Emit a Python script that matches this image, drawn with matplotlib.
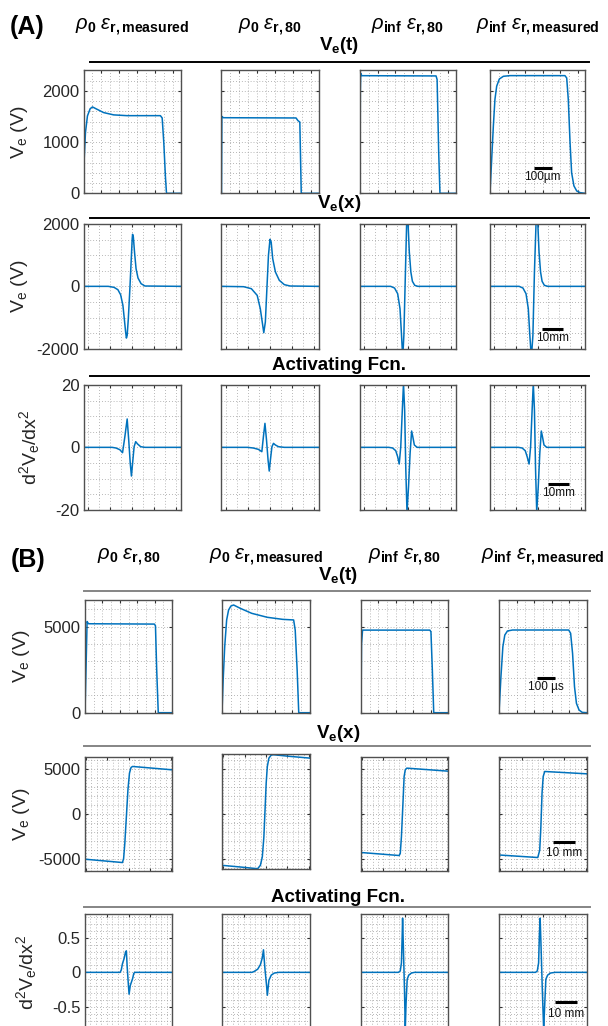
import matplotlib
matplotlib.use("Agg")
import matplotlib.pyplot as plt
from matplotlib.ticker import MultipleLocator, NullFormatter

plt.rcParams['font.family'] = ['Liberation Sans', 'DejaVu Sans']
plt.rcParams['mathtext.fontset'] = 'custom'
plt.rcParams['mathtext.rm'] = 'Liberation Sans'
plt.rcParams['mathtext.it'] = 'Liberation Sans:italic'
plt.rcParams['mathtext.bf'] = 'Liberation Sans:bold'

# ---------------- DATA ----------------
titles_A = [r'$\rho_{\mathbf{0}}\ \varepsilon_{\mathbf{r,measured}}$', r'$\rho_{\mathbf{0}}\ \varepsilon_{\mathbf{r,80}}$',
            r'$\rho_{\mathbf{inf}}\ \varepsilon_{\mathbf{r,80}}$', r'$\rho_{\mathbf{inf}}\ \varepsilon_{\mathbf{r,measured}}$']
titles_B = [r'$\rho_{\mathbf{0}}\ \varepsilon_{\mathbf{r,80}}$', r'$\rho_{\mathbf{0}}\ \varepsilon_{\mathbf{r,measured}}$',
            r'$\rho_{\mathbf{inf}}\ \varepsilon_{\mathbf{r,80}}$', r'$\rho_{\mathbf{inf}}\ \varepsilon_{\mathbf{r,measured}}$']
row_titles = [r'$\mathbf{V_e(t)}$', r'$\mathbf{V_e(x)}$', 'Activating Fcn.']
ylabels = [r'$\mathrm{V_e\ (V)}$', r'$\mathrm{V_e\ (V)}$', r'$\mathrm{d^2V_e/dx^2}$']

# Panel A, row 1: Ve(t)  (time in us, V)
a1_c1_t = [0, 3.7, 11, 22, 37, 50, 75, 112, 168, 242, 428, 438, 447, 456, 462, 540]
a1_c1_v = [0, 660, 1190, 1510, 1650, 1685, 1640, 1575, 1530, 1515, 1515, 1470, 990, 330, 0, 0]
a1_c2_t = [0, 2, 4, 10, 415, 425, 436, 440, 444, 540]
a1_c2_v = [0, 1500, 1495, 1475, 1470, 1420, 1390, 700, 0, 0]
a1_c3_t = [0, 2, 4, 10, 430, 436, 445, 452, 540]
a1_c3_v = [0, 2000, 2340, 2295, 2290, 2220, 800, 0, 0]
a1_c4_t = [0, 9.5, 19, 28, 38, 53, 76, 114, 426, 436, 445, 455, 464, 477, 493, 512, 540]
a1_c4_v = [0, 660, 1310, 1830, 2090, 2230, 2283, 2296, 2296, 2250, 1830, 990, 400, 145, 45, 13, 0]

# Panel A, row 2: Ve(x)  (mm, V)
a2_c1_x = [-22, -10.78, -8.15, -6.40, -5.17, -4.12, -3.42, -2.89, -2.54, -2.19, -1.67, -0.96, -0.26, 0.09, 0.26, 0.61, 1.14, 1.84, 2.72, 4.12, 5.87, 22]
a2_c1_v = [0, 0, -32, -107, -268, -610, -1091, -1466, -1659, -1573, -1038, -75, 995, 1530, 1669, 1584, 1102, 567, 268, 86, 11, 0]
a2_c2_x = [-22, -11.97, -8.45, -5.81, -4.40, -3.52, -2.82, -2.11, -1.41, -0.70, 0.0, 0.53, 1.23, 2.46, 4.22, 6.51, 9.15, 22]
a2_c2_v = [0, -11, -75, -289, -717, -1145, -1487, -1145, -75, 995, 1509, 1423, 888, 460, 193, 54, 11, 0]
a2_c3_x = [-22, -7.87, -6.08, -4.65, -3.57, -2.86, -2.32, -1.79, -1.07, -0.53, -0.17, 0.18, 0.72, 1.43, 2.15, 3.22, 4.65, 22]
a2_c3_v = [0, 0, -54, -235, -717, -1573, -2300, -1573, 460, 1958, 2300, 1958, 1102, 460, 161, 32, 0, 0]
a2_c4_x = [-22, -8.52, -6.74, -5.32, -4.26, -3.55, -2.84, -2.13, -1.42, -0.71, -0.36, 0.18, 0.71, 1.42, 2.13, 3.19, 4.79, 22]
a2_c4_v = [0, 0, -54, -235, -717, -1573, -2300, -1573, 460, 1958, 2300, 1958, 1102, 460, 161, 32, 0, 0]

# Panel A, row 3: activating function
a3_c1_x = [-22, -9.03, -7.28, -5.52, -4.29, -3.24, -2.19, -1.49, -0.79, -0.26, 0.26, 0.96, 1.67, 2.54, 3.94, 5.87, 22]
a3_c1_f = [0, 0, -0.21, -0.75, -1.71, 3.42, 9.1, 2.35, -5.14, -9.2, -5.14, 0.21, 1.82, 1.07, 0.21, 0, 0]
a3_c2_x = [-22, -10.21, -7.57, -5.28, -3.70, -2.99, -2.29, -1.58, -0.88, -0.35, 0.18, 0.88, 1.58, 2.46, 3.87, 6.51, 22]
a3_c2_f = [0, 0, -0.21, -0.64, -1.39, 3.42, 7.7, 2.35, -4.07, -7.6, -4.07, 0.21, 1.28, 0.75, 0.21, 0, 0]
a3_c3_x = [-22, -8.76, -6.97, -5.54, -4.65, -3.93, -3.22, -2.5, -1.96, -1.43, -0.89, -0.35, 0.36, 1.08, 1.79, 2.33, 3.04, 4.3, 22]
a3_c3_f = [0, 0, -0.21, -1.07, -3.0, -5.35, 0.21, 12.0, 20.5, 12.0, -7.28, -20.7, -12.6, -1.93, 5.24, 3.42, 0.75, 0, 0]
a3_c4_x = [-22, -8.87, -7.1, -5.68, -4.79, -3.9, -3.19, -2.49, -1.95, -1.42, -0.89, -0.36, 0.35, 1.06, 1.77, 2.3, 3.01, 4.26, 22]
a3_c4_f = [0, 0, -0.21, -1.07, -3.0, -5.35, 0.21, 12.0, 20.5, 12.0, -7.28, -20.7, -12.6, -1.93, 5.24, 3.42, 0.75, 0, 0]

# Panel B, row 1: Ve(t)
b1_c1_t = [0, 8, 12, 20, 399, 405, 412, 421, 500]
b1_c1_v = [0, 3500, 5300, 5170, 5150, 5050, 2500, 0, 0]
b1_c2_t = [0, 6.6, 15.4, 26.4, 37.4, 50.6, 66, 103, 169, 257, 345, 407, 416, 427, 436, 500]
b1_c2_v = [0, 1900, 3840, 5390, 5970, 6200, 6260, 6070, 5775, 5545, 5425, 5390, 4800, 2480, 0, 0]
b1_c3_t = [0, 3, 9, 396, 402, 410, 418, 500]
b1_c3_v = [0, 4000, 4800, 4800, 4700, 2480, 0, 0]
b1_c4_t = [0, 11, 22, 33, 48, 77, 396, 407, 418, 429, 440, 455, 473, 500]
b1_c4_v = [0, 2090, 3840, 4515, 4750, 4806, 4806, 4612, 3450, 1512, 543, 155, 19, 0]

# Panel B, row 2: Ve(x)
b2_c1_x = [-20.5, -2.85, -2.3, -1.74, -1.0, -0.27, 0.46, 1.2, 1.93, 20.5]
b2_c1_v = [-4995, -5365, -4921, -3256, -296, 2664, 4514, 5143, 5254, 4884]
b2_c2_x = [-20.5, -12.01, -5.69, -3.88, -2.62, -1.72, -0.99, -0.45, 0.08, 0.62, 1.35, 2.43, 3.52, 11.47, 20.5]
b2_c2_v = [-5661, -5846, -5994, -6031, -5661, -4736, -2516, 444, 3404, 5254, 6179, 6512, 6549, 6364, 6179]
b2_c3_x = [-20.5, -2.54, -2.0, -1.45, -0.73, -0.18, 0.36, 1.09, 20.5]
b2_c3_v = [-4255, -4588, -4366, -2516, 1184, 4144, 4884, 5069, 4736]
b2_c4_x = [-20.5, -2.44, -1.53, -0.99, -0.45, 0.09, 0.81, 20.5]
b2_c4_v = [-4530, -4810, -3996, -1406, 2294, 4144, 4699, 4440]

# Panel B, row 3: activating function
b3_c1_x = [-20, -3.85, -3.32, -2.78, -2.06, -1.34, -0.98, -0.62, -0.09, 0.27, 0.81, 1.35, 1.89, 2.43, 2.96, 20]
b3_c1_f = [0, 0, 0.035, 0.125, 0.195, 0.295, 0.31, 0.085, -0.165, -0.315, -0.19, -0.14, -0.09, -0.015, 0, 0]
b3_c2_x = [-20, -6.43, -5.55, -3.79, -2.56, -1.68, -1.15, -0.44, 0.26, 0.62, 1.32, 2.38, 3.79, 5.9, 20]
b3_c2_f = [0, 0, 0.01, 0.045, 0.11, 0.21, 0.325, 0.035, -0.19, -0.33, -0.115, -0.04, -0.01, 0, 0]
b3_c3_x = [-20, -2.83, -1.95, -1.41, -1.06, -0.88, -0.53, 0.0, 0.36, 0.71, 1.24, 1.95, 3.19, 4.6, 20]
b3_c3_f = [0, 0, 0.02, 0.135, 0.535, 0.78, 0.385, -0.265, -0.82, -0.45, -0.1, -0.04, -0.01, 0, 0]
b3_c4_x = [-20, -3.4, -2.6, -2.0, -1.65, -1.3, -0.9, -0.3, 0.3, 0.8, 1.3, 2.1, 3.4, 5.5, 20]
b3_c4_f = [0, 0, 0.02, 0.135, 0.535, 0.78, 0.385, -0.265, -0.82, -0.45, -0.1, -0.04, -0.01, 0, 0]

yticks_rows = [[0, 1000, 2000], [-2000, 0, 2000], [-20, 0, 20],
               [0, 5000], [-5000, 0, 5000], [-0.5, 0, 0.5]]
ytick_labels_rows = [['0', '1000', '2000'], ['-2000', '0', '2000'], ['-20', '0', '20'],
                     ['0', '5000'], ['-5000', '0', '5000'], ['-0.5', '0', '0.5']]
scalebar_labels = ['100µm', '10mm', '10mm', '100 µs', '10 mm', '10 mm']

# ---------------- LAYOUT ----------------
W, H = 608, 1026
fig = plt.figure(figsize=(W / 100, H / 100), dpi=100)

BLUE = '#0072BD'
AX_COLOR = '#505050'

def add_ax(l, r, t, b):
    return fig.add_axes([l / W, 1 - b / H, (r - l) / W, (b - t) / H])

def ftext(x, y, s, **kw):
    fig.text(x / W, 1 - y / H, s, **kw)

def hline(x0, x1, y, color, lw=1.4):
    fig.add_artist(plt.Line2D([x0 / W, x1 / W], [1 - y / H, 1 - y / H], color=color, lw=lw,
                              transform=fig.transFigure))

cols_A = [(83.5, 180.5), (221.5, 318.5), (360, 455.5), (490, 585)]
cols_B = [(85, 172), (222, 310), (361, 448), (499, 587)]
rows_A = [(70.3, 193.3), (224, 348.7), (385, 509.7)]
rows_B = [(600, 712.7), (757, 871), (913.7, 1031)]

data = [
    [(a1_c1_t, a1_c1_v), (a1_c2_t, a1_c2_v), (a1_c3_t, a1_c3_v), (a1_c4_t, a1_c4_v)],
    [(a2_c1_x, a2_c1_v), (a2_c2_x, a2_c2_v), (a2_c3_x, a2_c3_v), (a2_c4_x, a2_c4_v)],
    [(a3_c1_x, a3_c1_f), (a3_c2_x, a3_c2_f), (a3_c3_x, a3_c3_f), (a3_c4_x, a3_c4_f)],
    [(b1_c1_t, b1_c1_v), (b1_c2_t, b1_c2_v), (b1_c3_t, b1_c3_v), (b1_c4_t, b1_c4_v)],
    [(b2_c1_x, b2_c1_v), (b2_c2_x, b2_c2_v), (b2_c3_x, b2_c3_v), (b2_c4_x, b2_c4_v)],
    [(b3_c1_x, b3_c1_f), (b3_c2_x, b3_c2_f), (b3_c3_x, b3_c3_f), (b3_c4_x, b3_c4_f)],
]
xlims = [(0, 540), (-22, 22), (-22, 22), (0, 500), (-20.5, 20.5), (-20, 20)]
ylims = [(0, 2400), (-2000, 2000), (-20, 20), (0, 6550), (-6300, 6300), (-0.845, 0.845)]
xsteps = [(100, 50), (10, 5), (10, 5), (100, 50), (10, 2.5), (10, 2.5)]
ysteps = [(1000, 200), (2000, 500), (20, 5), (5000, 1000), (5000, 1000), (0.5, 0.1)]
# scale bars in data units of the last column: (x0, x1, y, text_x, text_y)
scalebars = [(250, 350, 500, 300, 318), (2, 12, -1367, 7, -1650), (4.8, 14.8, -11.75, 9.8, -14.6),
             (216, 316, 2043, 266, 1500), (4.85, 14.85, -3094, 9.85, -4300), (5.3, 15.3, -0.424, 10.3, -0.6)]

for ri in range(6):
    if ri < 3:
        cols, (t, b) = cols_A, rows_A[ri]
    else:
        cols, (t, b) = cols_B, rows_B[ri - 3]
    for ci in range(4):
        l, r = cols[ci]
        tt, bb = t, b
        ylim = ylims[ri]
        if ri == 4 and ci == 1:
            tt, bb = 754.3, 869.3
            ylim = (-6100, 6600)
        ax = add_ax(l, r, tt, bb)
        x, y = data[ri][ci]
        ax.plot(x, y, color=BLUE, lw=1.1)
        ax.set_xlim(*xlims[ri])
        ax.set_ylim(*ylim)
        ax.xaxis.set_major_locator(MultipleLocator(xsteps[ri][0]))
        ax.xaxis.set_minor_locator(MultipleLocator(xsteps[ri][1]))
        ax.yaxis.set_major_locator(MultipleLocator(ysteps[ri][0]))
        ax.yaxis.set_minor_locator(MultipleLocator(ysteps[ri][1]))
        ax.grid(which='both', linestyle=(0, (1, 2.5)), color='#a0a0a0', lw=0.6)
        ax.set_axisbelow(True)
        ax.tick_params(which='major', direction='in', length=2.5, width=0.8, top=True, right=True,
                       color='#303030', labelbottom=False, labelsize=12, labelcolor='#262626', pad=3)
        ax.tick_params(which='minor', length=0)
        for sp in ax.spines.values():
            sp.set_color(AX_COLOR)
            sp.set_linewidth(1.0)
        ax.xaxis.set_major_formatter(NullFormatter())
        if ci == 0:
            ax.set_yticks(yticks_rows[ri])
            ax.set_yticklabels(ytick_labels_rows[ri])
            ax.yaxis.set_minor_locator(MultipleLocator(ysteps[ri][1]))
        else:
            ax.yaxis.set_major_formatter(NullFormatter())
        if ci == 3:
            x0, x1, yb, tx, ty = scalebars[ri]
            ax.plot([x0, x1], [yb, yb], color='black', lw=2.2, solid_capstyle='butt')
            ax.text(tx, ty, scalebar_labels[ri], ha='center', va='center', fontsize=8.5, color='#111111')

# Column titles and labels
for ci in range(4):
    cA = sum(cols_A[ci]) / 2
    cB = sum(cols_B[ci]) / 2
    ftext(cA, 27, titles_A[ci], ha='center', va='center', fontsize=14.5)
    ftext(cB, 557, titles_B[ci], ha='center', va='center', fontsize=14.5)

ftext(27.5, 27, '(A)', ha='center', va='center', fontsize=18, fontweight='bold')
ftext(28, 560, '(B)', ha='center', va='center', fontsize=18, fontweight='bold')

# section titles and lines
title_y_A = [45, 203, 366]
line_y_A = [62, 217.7, 375.7]
title_y_B = [576, 733, 897]
line_y_B = [590.7, 746, 906.7]
for i in range(3):
    ftext(339, title_y_A[i], row_titles[i], ha='center', va='center', fontsize=13.5, fontweight='bold')
    hline(89.6, 589, line_y_A[i], 'black', lw=1.4)
    ftext(338, title_y_B[i], row_titles[i], ha='center', va='center', fontsize=13.5, fontweight='bold')
    hline(84, 590, line_y_B[i], '#858585', lw=1.4)

# y labels
ylab_x = [19, 19, 30, 21, 21, 27]
ylab_rows = [rows_A[0], rows_A[1], rows_A[2], rows_B[0], rows_B[1], rows_B[2]]
for ri in range(6):
    t, b = ylab_rows[ri]
    ftext(ylab_x[ri], (t + b) / 2, ylabels[ri % 3], rotation=90, ha='center', va='center',
          fontsize=14, color='#262626')

fig.savefig('out.png', dpi=100)
